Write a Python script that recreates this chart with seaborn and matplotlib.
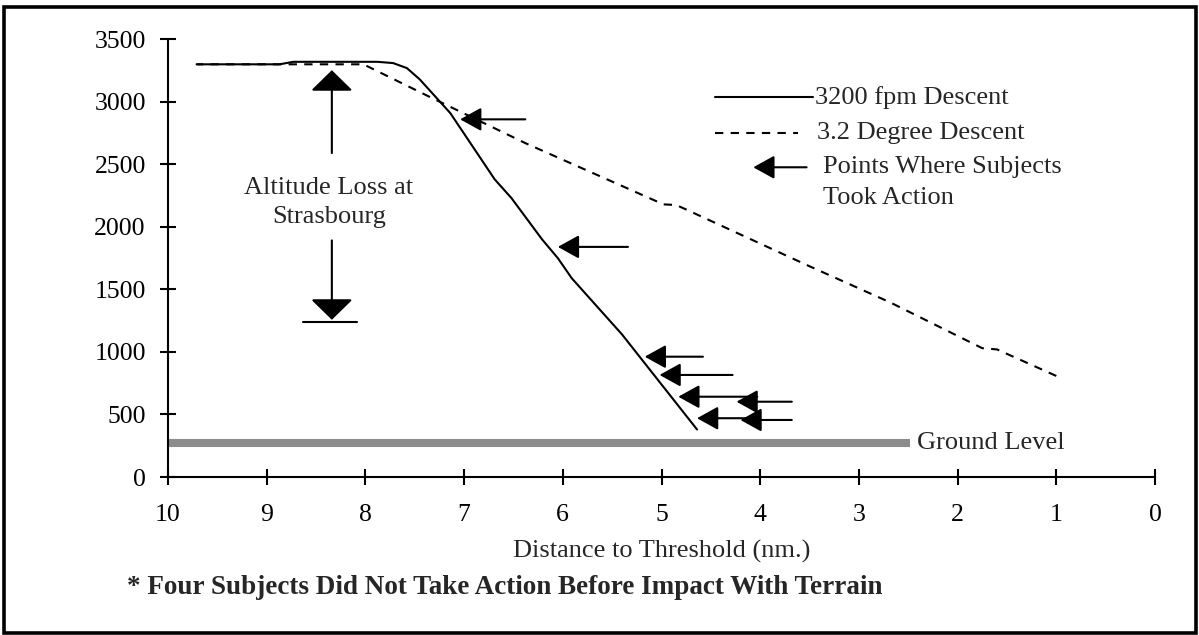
import pandas as pd
import matplotlib
matplotlib.use('Agg')
import matplotlib.pyplot as plt
import seaborn as sns
from matplotlib.patches import Rectangle
from matplotlib.lines import Line2D

# 3200 fpm descent (solid line)
dist_fpm = [9.71, 8.87, 8.73, 7.88, 7.72, 7.58, 7.45, 7.14, 6.69, 6.52, 6.21, 6.05, 5.91, 5.40, 4.64]
alt_fpm = [3300, 3300, 3320, 3320, 3310, 3270, 3180, 2910, 2380, 2230, 1900, 1750, 1590, 1140, 380]

# 3.2 degree descent (dashed line)
dist_deg = [9.71, 8.02, 7.35, 6.38, 4.98, 4.85, 3.50, 2.68, 1.75, 1.60, 1.00]
alt_deg = [3300, 3300, 3040, 2670, 2180, 2175, 1685, 1395, 1030, 1020, 808]

# points where subjects took action (arrow tip, arrow tail, altitude)
act_tip = [7.04, 6.05, 5.17, 5.02, 4.83, 4.24, 4.64, 4.20]
act_tail = [6.38, 5.34, 4.58, 4.28, 4.03, 3.68, 4.00, 3.68]
act_alt = [2860, 1840, 962, 816, 642, 602, 470, 456]

# altitude loss at Strasbourg markers
loss_x = 8.34
loss_up = [2590, 3253]
loss_down = [1892, 1257]
loss_bar_x = [8.63, 8.09]
loss_bar_y = 1241

# ground level
ground_x = [10, 2.48]
ground_y = 270

x_ticks = [10, 9, 8, 7, 6, 5, 4, 3, 2, 1, 0]
y_ticks = [0, 500, 1000, 1500, 2000, 2500, 3000, 3500]

sns.set_style('ticks')
plt.rcParams['font.family'] = ['Liberation Serif', 'DejaVu Serif']

fig = plt.figure(figsize=(11.99, 6.35), dpi=100)
ax = fig.add_axes([168 / 1199, 1 - 477 / 635, 987 / 1199, 437.7 / 635])

df_fpm = pd.DataFrame({'dist': dist_fpm, 'alt': alt_fpm})
df_deg = pd.DataFrame({'dist': dist_deg, 'alt': alt_deg})
sns.lineplot(data=df_fpm, x='dist', y='alt', ax=ax, color='black', lw=1.5, estimator=None)
sns.lineplot(data=df_deg, x='dist', y='alt', ax=ax, color='black', lw=1.5, estimator=None,
             linestyle=(0, (4, 3.5)))

# ground level bar
ax.plot(ground_x, [ground_y, ground_y], color='#8c8c8c', lw=5.8, solid_capstyle='butt', zorder=1)
ax.text(2.41, ground_y, 'Ground Level', fontsize=19, va='center', ha='left')

small_head = '-|>,head_length=1.3,head_width=0.72'
big_head = '-|>,head_length=1.3,head_width=1.33'
for tip, tail, alt in zip(act_tip, act_tail, act_alt):
    ax.annotate('', xy=(tip, alt), xytext=(tail, alt),
                arrowprops=dict(arrowstyle=small_head, color='black', lw=1.5,
                                shrinkA=0, shrinkB=0, mutation_scale=10))

ax.annotate('', xy=(loss_x, loss_up[1]), xytext=(loss_x, loss_up[0]),
            arrowprops=dict(arrowstyle=big_head, color='black', lw=1.5,
                            shrinkA=0, shrinkB=0, mutation_scale=10))
ax.annotate('', xy=(loss_x, loss_down[1]), xytext=(loss_x, loss_down[0]),
            arrowprops=dict(arrowstyle=big_head, color='black', lw=1.5,
                            shrinkA=0, shrinkB=0, mutation_scale=10))
ax.plot(loss_bar_x, [loss_bar_y, loss_bar_y], color='black', lw=1.5)
ax.text(8.37, 2197, 'Altitude Loss at\nStrasbourg', fontsize=19, ha='center', va='center',
        linespacing=1.42)

# legend drawn by hand
tr = ax.transAxes
ax.add_line(Line2D([0.554, 0.6535], [0.8675, 0.8675], color='black', lw=1.5, transform=tr))
ax.text(0.6555, 0.8675, '3200 fpm Descent', fontsize=19, va='center', transform=tr)
ax.add_line(Line2D([0.554, 0.638], [0.785, 0.785], color='black', lw=1.5,
                   linestyle=(0, (4, 3.5)), transform=tr))
ax.text(0.658, 0.785, '3.2 Degree Descent', fontsize=19, va='center', transform=tr)
ax.annotate('', xy=(0.593, 0.7076), xytext=(0.647, 0.7076), xycoords=tr, textcoords=tr,
            arrowprops=dict(arrowstyle=small_head, color='black', lw=1.5,
                            shrinkA=0, shrinkB=0, mutation_scale=10))
ax.text(0.664, 0.708, 'Points Where Subjects', fontsize=19, va='center', transform=tr)
ax.text(0.664, 0.638, 'Took Action', fontsize=19, va='center', transform=tr)

ax.set_xlim(10, 0)
ax.set_ylim(0, 3500)
ax.set_xticks(x_ticks)
ax.set_xticklabels([str(t) for t in x_ticks])
ax.set_yticks(y_ticks)
ax.set_yticklabels([str(t) for t in y_ticks])
ax.tick_params(axis='both', direction='inout', length=12, width=1.5, labelsize=18.5,
               colors='black')
ax.tick_params(axis='y', pad=10)
ax.tick_params(axis='x', pad=13.5)
ax.set_xlabel('Distance to Threshold (nm.)', fontsize=19, labelpad=10)
ax.set_ylabel('')
sns.despine(ax=ax)
for s in ['left', 'bottom']:
    ax.spines[s].set_linewidth(1.5)
    ax.spines[s].set_color('black')
ax.patch.set_alpha(0)

fig.text(127 / 1199, 1 - 587 / 635, '* Four Subjects Did Not Take Action Before Impact With Terrain',
         fontsize=19.5, fontweight='bold', va='center', ha='left')

# outer frame
fig.add_artist(Rectangle((3.5 / 1199, 2.5 / 635), 1192 / 1199, 625.5 / 635,
                         transform=fig.transFigure, fill=False, lw=2.6, edgecolor='black'))

fig.savefig('out.png', dpi=100)
